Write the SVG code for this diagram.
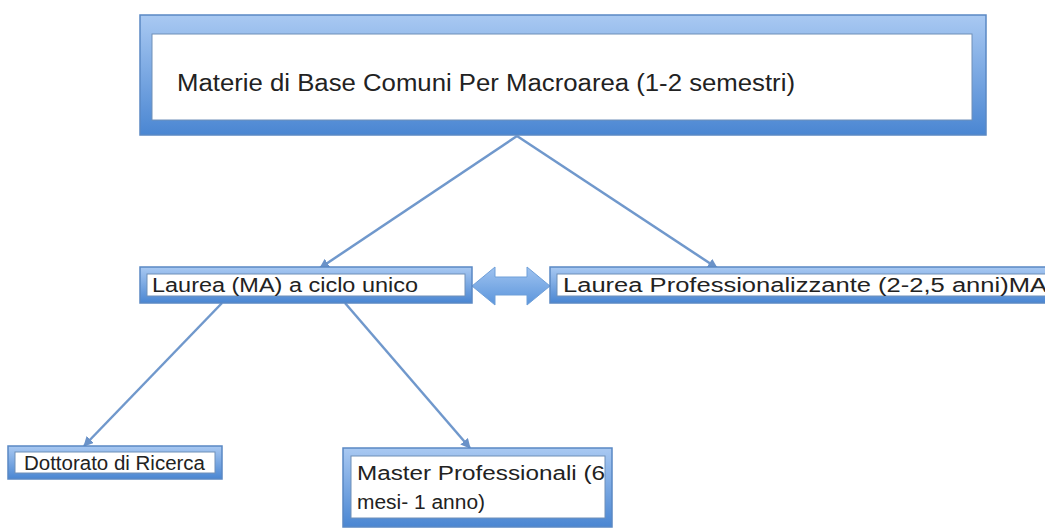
<svg xmlns="http://www.w3.org/2000/svg" width="1045" height="528" viewBox="0 0 1045 528">
<defs>
<linearGradient id="frame" x1="0" y1="0" x2="0" y2="1">
<stop offset="0" stop-color="#a9c9f2"/>
<stop offset="1" stop-color="#4a86d2"/>
</linearGradient>
<linearGradient id="dbl" x1="0" y1="0" x2="0" y2="1">
<stop offset="0" stop-color="#9fc3f0"/>
<stop offset="1" stop-color="#5b95dc"/>
</linearGradient>
<marker id="ah" viewBox="0 0 10 10" refX="9" refY="5" markerWidth="4" markerHeight="4" orient="auto" markerUnits="strokeWidth">
<path d="M0,0 L10,5 L0,10 z" fill="#6a92c8"/>
</marker>
<style>
.frame{fill:url(#frame);stroke:#5a88c4;stroke-width:1.5}
.inner{fill:#ffffff;stroke:#6f8fb8;stroke-width:1}
.lbl{font-family:"Liberation Sans",Arial,sans-serif;fill:#222222}
.conn{stroke:#7098cc;stroke-width:2.5;fill:none;marker-end:url(#ah)}
</style>
</defs>
<rect width="1045" height="528" fill="#ffffff"/>
<g id="connectors">
<line class="conn" x1="517" y1="136" x2="320" y2="268"/>
<line class="conn" x1="517" y1="136" x2="717" y2="268"/>
<line class="conn" x1="222" y1="303" x2="84" y2="446"/>
<line class="conn" x1="345" y1="303" x2="470" y2="448"/>
<path id="double-arrow" d="M472,286 L495,267 L495,277 L527,277 L527,267 L550,286 L527,305 L527,295 L495,295 L495,305 Z" fill="url(#dbl)" stroke="#6f9fd8" stroke-width="1"/>
</g>
<g id="node-base">
<rect class="frame" x="140" y="15" width="846" height="120"/>
<rect class="inner" x="152" y="34" width="820" height="86"/>
<text class="lbl" x="177" y="91" font-size="23" textLength="618" lengthAdjust="spacingAndGlyphs">Materie di Base Comuni Per Macroarea (1-2 semestri)</text>
</g>
<g id="node-laurea">
<rect class="frame" x="140" y="267" width="332" height="36"/>
<rect class="inner" x="147" y="274" width="318" height="22"/>
<text class="lbl" x="152" y="292" font-size="20" textLength="266" lengthAdjust="spacingAndGlyphs">Laurea (MA) a ciclo unico</text>
</g>
<g id="node-prof">
<rect class="frame" x="550" y="267" width="510" height="36"/>
<rect class="inner" x="557" y="274" width="499" height="22"/>
<text class="lbl" x="563" y="292" font-size="20" textLength="484" lengthAdjust="spacingAndGlyphs">Laurea Professionalizzante (2-2,5 anni)MA</text>
</g>
<g id="node-dottorato">
<rect class="frame" x="8" y="446" width="214" height="33"/>
<rect class="inner" x="15" y="452" width="200" height="21"/>
<text class="lbl" x="24" y="470" font-size="20" textLength="181" lengthAdjust="spacingAndGlyphs">Dottorato di Ricerca</text>
</g>
<g id="node-master">
<rect class="frame" x="343" y="448" width="269" height="79"/>
<rect class="inner" x="351" y="456" width="254" height="62"/>
<text class="lbl" x="357" y="480" font-size="20" textLength="248" lengthAdjust="spacingAndGlyphs">Master Professionali (6</text>
<text class="lbl" x="357" y="509" font-size="20" textLength="128" lengthAdjust="spacingAndGlyphs">mesi- 1 anno)</text>
</g>
</svg>
